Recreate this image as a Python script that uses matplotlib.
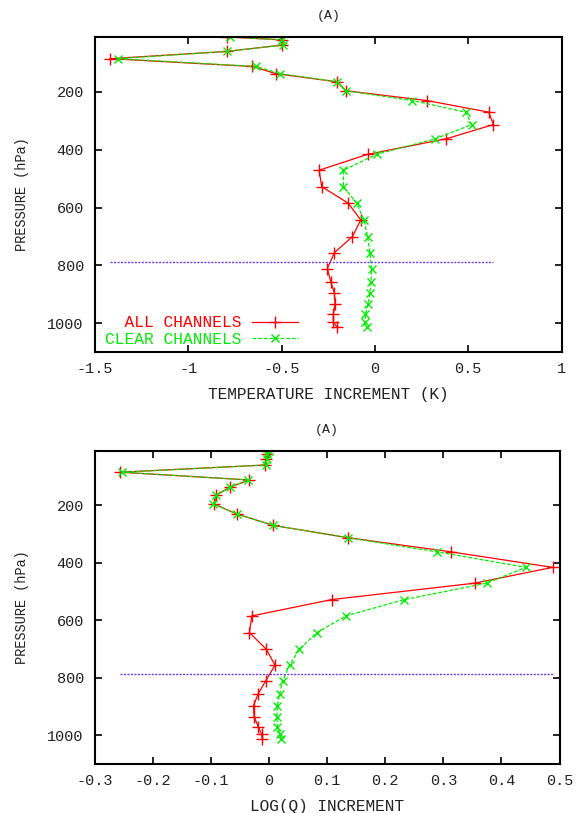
import matplotlib
matplotlib.use("Agg")
import matplotlib.pyplot as plt

# ---------------- DATA ----------------
pressure = [10, 20, 38, 60, 85, 112, 137, 165, 196, 230, 270, 313, 362, 416,
            471, 528, 585, 643, 701, 756, 811, 856, 897, 935, 970, 997, 1013]

temp_all = [-0.79, -0.50, -0.50, -0.795, -1.42, -0.657, -0.53, -0.204, -0.156,
            0.279, 0.610, 0.635, 0.383, -0.039, -0.299, -0.285, -0.143, -0.076,
            -0.121, -0.217, -0.255, -0.237, -0.217, -0.214, -0.223, -0.223, -0.204]
temp_clear = [-0.778, -0.497, -0.49, -0.795, -1.379, -0.635, -0.507, -0.201, -0.156,
              0.201, 0.486, 0.519, 0.324, 0.009, -0.169, -0.169, -0.098, -0.059,
              -0.039, -0.027, -0.018, -0.021, -0.027, -0.036, -0.052, -0.052, -0.044]

logq_all = [-0.002, -0.004, -0.005, -0.007, -0.257, -0.034, -0.068, -0.091, -0.095,
            -0.056, 0.007, 0.136, 0.313, 0.488, 0.354, 0.108, -0.030, -0.034,
            -0.005, 0.010, -0.006, -0.019, -0.027, -0.026, -0.019, -0.013, -0.012]
logq_clear = [-0.001, -0.003, -0.004, -0.006, -0.253, -0.036, -0.068, -0.091, -0.096,
              -0.056, 0.007, 0.136, 0.289, 0.442, 0.375, 0.233, 0.132, 0.082,
              0.052, 0.035, 0.023, 0.018, 0.014, 0.013, 0.014, 0.019, 0.020]

cloud_top = 787  # level marked by the horizontal line

temp_ticks = [-1.5, -1, -0.5, 0, 0.5, 1]
logq_ticks = [-0.3, -0.2, -0.1, 0, 0.1, 0.2, 0.3, 0.4, 0.5]
p_ticks = [200, 400, 600, 800, 1000]

# ---------------- STYLE ----------------
plt.rcParams['font.family'] = ['Liberation Mono', 'DejaVu Sans Mono']
plt.rcParams['font.size'] = 11
TXT = "#222222"


def draw_panel(ax, x_all, x_clear, xticks, xlabel, legend=False):
    # labels padded on the left so they line up on the right in the key
    ax.plot(x_all, pressure, color="red", lw=0.9, marker="+", ms=8, mew=1.0,
            label="  ALL CHANNELS")
    ax.plot(x_clear, pressure, color="#00ee00", lw=0.9, ls=(0, (3, 1.5)),
            marker="x", ms=6, mew=1.0, label="CLEAR CHANNELS")
    ax.hlines(cloud_top, min(x_all), max(x_all), color="#6a38f0", lw=1.0,
              linestyles=(0, (1.5, 1)))

    ax.set_xlim(xticks[0], xticks[-1])
    ax.set_ylim(1100, 10)
    ax.set_xticks(xticks)
    ax.set_xticklabels(["%g" % t for t in xticks], color=TXT)
    ax.set_yticks(p_ticks)
    ax.set_yticklabels([str(t) for t in p_ticks], color=TXT)
    ax.tick_params(axis="x", direction="in", top=True, length=5, width=1.2, pad=7)
    ax.tick_params(axis="y", direction="in", right=True, length=5, width=1.2, pad=8)
    for s in ax.spines.values():
        s.set_linewidth(1.5)

    ax.set_title("(A)", color=TXT, pad=13, fontsize=9.5)
    ax.set_xlabel(xlabel, color=TXT, labelpad=8, fontsize=11.6)
    ax.set_ylabel("PRESSURE (hPa)", color=TXT, labelpad=13, fontsize=9.8)

    if legend:
        ax.legend(loc="lower left", frameon=False, markerfirst=False,
                  labelcolor="linecolor", fontsize=11.7, handlelength=2.85,
                  handletextpad=0.65, borderaxespad=0.2, labelspacing=0.1,
                  bbox_to_anchor=(0.0, -0.015))


fig = plt.figure(figsize=(5.81, 8.13), dpi=100)
ax1 = fig.add_axes([0.1635, 0.567, 0.803, 0.3875])
ax2 = fig.add_axes([0.1635, 0.0603, 0.7995, 0.3854])

draw_panel(ax1, temp_all, temp_clear, temp_ticks,
           "TEMPERATURE INCREMENT (K)", legend=True)
draw_panel(ax2, logq_all, logq_clear, logq_ticks, "LOG(Q) INCREMENT")

fig.savefig("out.png", dpi=100)
